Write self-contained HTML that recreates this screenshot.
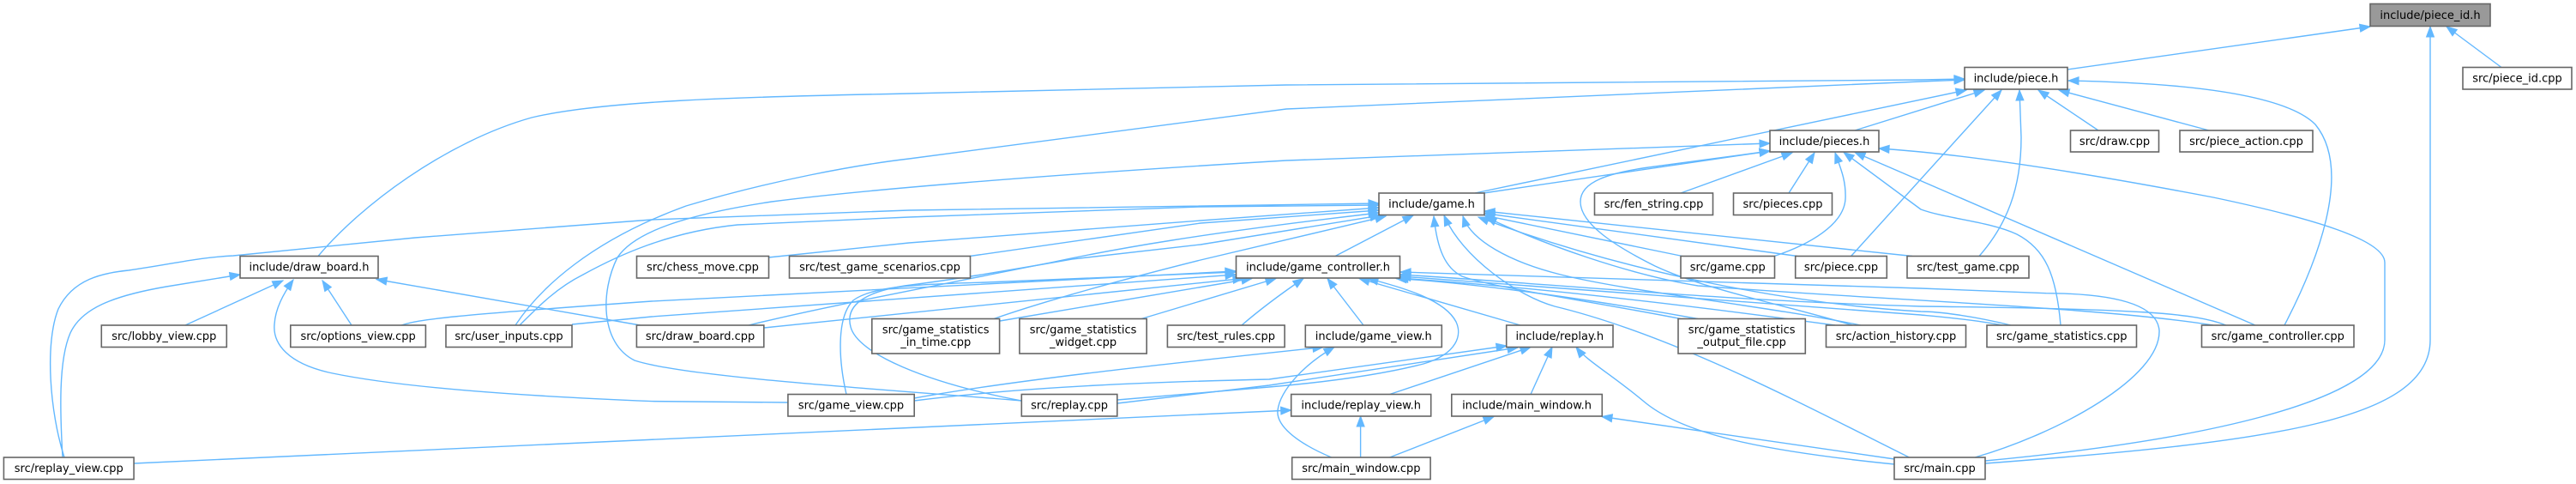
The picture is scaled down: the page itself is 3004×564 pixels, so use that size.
<!DOCTYPE html>
<html>
<head>
<meta charset="utf-8">
<style>
html,body{margin:0;padding:0;background:#fff;}
svg{display:block;}
.e path{fill:none;stroke:#63b8ff;stroke-width:1.4;stroke-linejoin:round;}
.n rect{fill:#fff;stroke:#666666;stroke-width:1.6;}
.n text{font-family:"DejaVu Sans","Liberation Sans",sans-serif;font-size:13px;fill:#000;text-anchor:middle;}
</style>
</head>
<body>
<svg width="3004" height="564" viewBox="0 0 3004 564" xmlns="http://www.w3.org/2000/svg">
<defs>
<marker id="a" markerWidth="16" markerHeight="12" refX="12" refY="5" orient="auto" markerUnits="userSpaceOnUse" overflow="visible">
<path d="M0,0.5 L12,5 L0,9.5 z" fill="#63b8ff" stroke="#63b8ff" stroke-width="1"/>
</marker>
</defs>
<rect x="0" y="0" width="3004" height="564" fill="#fff"/>
<g class="e" marker-end="url(#a)">
<path marker-end="url(#a)" d="M2411,81 L2764,31"/>
<path marker-end="url(#a)" d="M2917,78.5 L2853,31"/>
<path marker-end="url(#a)" d="M2315,540 C2650,515 2834,490 2834,396 L2834,31"/>
<path marker-end="url(#a)" d="M1720,225 L2293,105"/>
<path marker-end="url(#a)" d="M2163,152 L2314,105"/>
<path marker-end="url(#a)" d="M371,298.5 C420,240 520,165 620,137 C700,118 850,113 1060,109 L1500,99 L2240,93 L2291,92"/>
<path marker-end="url(#a)" d="M601,379 C630,335 690,280 800,240 C900,210 1000,192 1060,185 L1500,127 L2240,95 L2291,93"/>
<path marker-end="url(#a)" d="M2447,152 L2377,105"/>
<path marker-end="url(#a)" d="M2576,152 L2401,105"/>
<path marker-end="url(#a)" d="M2664,379 C2700,310 2745,200 2700,145 C2660,105 2520,96 2412,94"/>
<path marker-end="url(#a)" d="M2158.6,298.5 L2334,105"/>
<path marker-end="url(#a)" d="M2308,298.5 C2340,262 2357,220 2357,160 L2355,105"/>
<path marker-end="url(#a)" d="M1730,225 L2064,176"/>
<path marker-end="url(#a)" d="M1960,225 L2090,178"/>
<path marker-end="url(#a)" d="M2086,225 L2116,178"/>
<path marker-end="url(#a)" d="M2069,298.5 C2110,285 2150,262 2152,232 C2153,210 2146,195 2140,178"/>
<path marker-end="url(#a)" d="M2160,379 C2080,355 1990,338 1930,310 C1880,285 1843,260 1843,235 C1843,212 1875,201 1930,194 L2064,176"/>
<path marker-end="url(#a)" d="M1191,467 C1050,455 800,440 740,420 C700,400 700,340 720,300 C740,270 800,250 900,235 C1000,222 1200,205 1500,187 L2064,167"/>
<path marker-end="url(#a)" d="M2315,537 C2550,515 2781,470 2781,396 L2781,306 C2781,280 2700,255 2581,230 C2450,205 2300,180 2191,173"/>
<path marker-end="url(#a)" d="M2303,533 C2400,505 2520,440 2518,385 C2515,350 2450,342 2386,341.7 L2240,336 L1633,317"/>
<path marker-end="url(#a)" d="M2226.5,533 C2100,470 1950,390 1813,357 C1770,345 1705,300 1684,251"/>
<path marker-end="url(#a)" d="M2209.5,535 L1868,485.5"/>
<path marker-end="url(#a)" d="M2209.5,541 C2050,525 1960,505 1916,467 C1880,437 1850,420 1838,404.5"/>
<path marker-end="url(#a)" d="M2581,379 C2450,358 2200,350 1980,333 C1900,320 1800,285 1733,253"/>
<path marker-end="url(#a)" d="M2345,379 C2300,368 2260,363 2240,363 C2100,355 1900,320 1724,253"/>
<path marker-end="url(#a)" d="M2170,379 C2050,355 1900,340 1820,320 C1760,305 1715,280 1706,252"/>
<path marker-end="url(#a)" d="M1960,371.5 C1850,350 1740,335 1705,322 C1685,312 1676,290 1672,252"/>
<path marker-end="url(#a)" d="M2230,298.5 L1731,246"/>
<path marker-end="url(#a)" d="M2096,298.5 L1731,248.5"/>
<path marker-end="url(#a)" d="M1962,298.5 L1731,251"/>
<path marker-end="url(#a)" d="M1557,298.5 L1648,251"/>
<path marker-end="url(#a)" d="M75,533 C58,480 52,400 68,360 C85,325 120,318 150,315 C200,308 230,300 272,298 C320,293 400,285 484,277 L760,256 L1060,245 L1608,237"/>
<path marker-end="url(#a)" d="M606,379 C630,355 650,335 680,320 C720,298 780,270 860,262 L1060,253 L1400,241 L1608,239"/>
<path marker-end="url(#a)" d="M896,300 L1060,283 L1400,257 L1608,242"/>
<path marker-end="url(#a)" d="M1131,298.5 L1400,260 L1608,245"/>
<path marker-end="url(#a)" d="M873,379 C950,360 1030,345 1225,306 C1300,290 1400,272 1608,248"/>
<path marker-end="url(#a)" d="M1159,371.5 C1200,357 1280,333 1400,303 L1616,252"/>
<path marker-end="url(#a)" d="M1191,467 C1080,446 1000,412 992,381 C985,355 1010,340 1055,333 C1110,326 1160,318 1250,302 L1400,285 L1610,251"/>
<path marker-end="url(#a)" d="M73,533 C70,480 68,420 82,388 C95,360 130,345 194,334 L280,320"/>
<path marker-end="url(#a)" d="M216,379 L330,327"/>
<path marker-end="url(#a)" d="M919,469 L760,467.6 C620,462 470,452 388,435 C335,424 318,400 320,378 C321,360 330,343 342,326"/>
<path marker-end="url(#a)" d="M410,379 L376,327"/>
<path marker-end="url(#a)" d="M746.5,379 L439,325.5"/>
<path marker-end="url(#a)" d="M468,379 C490,372 520,368 760,351 L1441,316"/>
<path marker-end="url(#a)" d="M667,378 L760,369 L1441,320"/>
<path marker-end="url(#a)" d="M891,382 L1450,324.5"/>
<path marker-end="url(#a)" d="M1166,374 L1460,324.5"/>
<path marker-end="url(#a)" d="M1331,371.5 L1488,324.5"/>
<path marker-end="url(#a)" d="M1448,379 C1470,360 1490,345 1520,324.5"/>
<path marker-end="url(#a)" d="M1590,379 L1548,324.5"/>
<path marker-end="url(#a)" d="M1773,379 L1585,324.5"/>
<path marker-end="url(#a)" d="M1303,466 L1480,451 C1550,445 1613,436 1660,424 C1700,412 1705,390 1698,375 C1685,350 1640,336 1595,324.5"/>
<path marker-end="url(#a)" d="M987,459.5 C978,420 975,370 995,350 C1015,335 1060,331 1150,329 L1441,317"/>
<path marker-end="url(#a)" d="M2596,379 C2560,365 2500,360 2240,357 C2000,350 1800,330 1633,320"/>
<path marker-end="url(#a)" d="M2335,379 C2300,372 2250,368 2240,367 L1633,322"/>
<path marker-end="url(#a)" d="M2140,379 C2000,360 1800,335 1630,324"/>
<path marker-end="url(#a)" d="M1980,371.5 C1850,348 1720,330 1628,324.5"/>
<path marker-end="url(#a)" d="M2403,379 C2398,320 2385,290 2352,273 C2320,258 2270,255 2240,244 L2150,177.5"/>
<path marker-end="url(#a)" d="M2630,379 L2163,177.5"/>
<path marker-end="url(#a)" d="M1066,464 C1200,440 1400,420 1543,404.5"/>
<path marker-end="url(#a)" d="M1066,467 C1200,450 1350,445 1480,442 L1757,403"/>
<path marker-end="url(#a)" d="M1303,470 L1480,449 L1770,405"/>
<path marker-end="url(#a)" d="M156,540 L1505.7,478"/>
<path marker-end="url(#a)" d="M1552.7,533 C1510,515 1488,495 1490,478 C1493,455 1520,425 1556,404.5"/>
<path marker-end="url(#a)" d="M1586.6,533 L1586.6,485"/>
<path marker-end="url(#a)" d="M1620.6,533 L1742,485.5"/>
<path marker-end="url(#a)" d="M1620.6,459.5 L1785,404.5"/>
<path marker-end="url(#a)" d="M1785,459.5 L1810,404.5"/>
</g>
<g class="n">
<rect x="2764" y="4.5" width="140" height="26" style="fill:#999999"/><text x="2834" y="22">include/piece_id.h</text>
<rect x="2291" y="78.5" width="120" height="25.5"/><text x="2351" y="95.5">include/piece.h</text>
<rect x="2872" y="78.5" width="127" height="25.5"/><text x="2935.5" y="95.5">src/piece_id.cpp</text>
<rect x="2064" y="152" width="127" height="25"/><text x="2127.5" y="169">include/pieces.h</text>
<rect x="2414.5" y="152" width="103" height="25"/><text x="2466" y="169">src/draw.cpp</text>
<rect x="2542" y="152" width="155" height="25"/><text x="2619.5" y="169">src/piece_action.cpp</text>
<rect x="1608" y="225" width="123" height="25.5"/><text x="1669.5" y="242">include/game.h</text>
<rect x="1859.5" y="225" width="138" height="25.5"/><text x="1928.5" y="242">src/fen_string.cpp</text>
<rect x="2021.5" y="225" width="115" height="25.5"/><text x="2079" y="242">src/pieces.cpp</text>
<rect x="280" y="298.5" width="161" height="25.5"/><text x="360.5" y="315.5">include/draw_board.h</text>
<rect x="742.5" y="298.5" width="154" height="25.5"/><text x="819.5" y="315.5">src/chess_move.cpp</text>
<rect x="920.5" y="298.5" width="211" height="25.5"/><text x="1026" y="315.5">src/test_game_scenarios.cpp</text>
<rect x="1441.5" y="298.5" width="191" height="25.5"/><text x="1537" y="315.5">include/game_controller.h</text>
<rect x="1960" y="298.5" width="109.5" height="25.5"/><text x="2014.75" y="315.5">src/game.cpp</text>
<rect x="2093.7" y="298.5" width="106.6" height="25.5"/><text x="2147" y="315.5">src/piece.cpp</text>
<rect x="2224" y="298.5" width="142" height="25.5"/><text x="2295" y="315.5">src/test_game.cpp</text>
<rect x="118.3" y="379" width="146" height="25.5"/><text x="191.3" y="396">src/lobby_view.cpp</text>
<rect x="338.8" y="379" width="157.6" height="25.5"/><text x="417.6" y="396">src/options_view.cpp</text>
<rect x="520" y="379" width="147" height="25.5"/><text x="593.5" y="396">src/user_inputs.cpp</text>
<rect x="742.4" y="379" width="148.4" height="25.5"/><text x="816.6" y="396">src/draw_board.cpp</text>
<rect x="1016.8" y="371.5" width="148.8" height="40.5"/><text x="1091.2" y="388.5">src/game_statistics</text><text x="1091.2" y="403">_in_time.cpp</text>
<rect x="1188.9" y="371.5" width="148.3" height="40.5"/><text x="1263.05" y="388.5">src/game_statistics</text><text x="1263.05" y="403">_widget.cpp</text>
<rect x="1361.4" y="379" width="136.7" height="25.5"/><text x="1429.75" y="396">src/test_rules.cpp</text>
<rect x="1522.3" y="379" width="159" height="25.5"/><text x="1601.8" y="396">include/game_view.h</text>
<rect x="1756.7" y="379" width="124.3" height="25.5"/><text x="1818.85" y="396">include/replay.h</text>
<rect x="1957" y="371.5" width="148.3" height="40.5"/><text x="2031.15" y="388.5">src/game_statistics</text><text x="2031.15" y="403">_output_file.cpp</text>
<rect x="2129.5" y="379" width="163" height="25.5"/><text x="2211" y="396">src/action_history.cpp</text>
<rect x="2317" y="379" width="174.5" height="25.5"/><text x="2404.25" y="396">src/game_statistics.cpp</text>
<rect x="2567.5" y="379" width="177.5" height="25.5"/><text x="2656.25" y="396">src/game_controller.cpp</text>
<rect x="918.9" y="459.5" width="147.3" height="25.5"/><text x="992.55" y="476.5">src/game_view.cpp</text>
<rect x="1191.3" y="459.5" width="111.5" height="25.5"/><text x="1247.05" y="476.5">src/replay.cpp</text>
<rect x="1505.7" y="459.5" width="163" height="25.5"/><text x="1587.2" y="476.5">include/replay_view.h</text>
<rect x="1692.8" y="459.5" width="175.5" height="25.5"/><text x="1780.55" y="476.5">include/main_window.h</text>
<rect x="4.4" y="533" width="151.7" height="25.5"/><text x="80.25" y="550">src/replay_view.cpp</text>
<rect x="1506.7" y="533" width="161.4" height="25.5"/><text x="1587.4" y="550">src/main_window.cpp</text>
<rect x="2209" y="533" width="106" height="25.5"/><text x="2262" y="550">src/main.cpp</text>
</g>
</svg>
</body>
</html>
